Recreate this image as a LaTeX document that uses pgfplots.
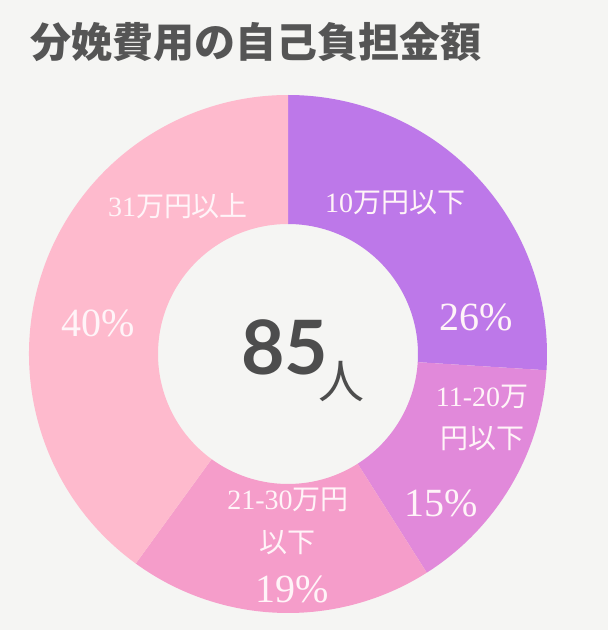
\documentclass[border=0pt]{standalone}
\usepackage{fontspec}
\usepackage{pgfplots}
\pgfplotsset{compat=1.18}
\setmainfont{Liberation Serif}
\newfontfamily\cjk{Noto Sans CJK JP}
\newfontfamily\lato{Lato}
\definecolor{bg}{HTML}{F5F5F3}
\definecolor{c1}{HTML}{BD78E9}
\definecolor{c2}{HTML}{E189DA}
\definecolor{c3}{HTML}{F59DCA}
\definecolor{c4}{HTML}{FEBACD}
\definecolor{lab}{HTML}{FFF4F8}
\definecolor{ttl}{HTML}{555555}
\definecolor{ctr}{HTML}{4D4D4D}
% sector from cumulative percent #1 to #2 (clockwise from top)
\newcommand\sector[3]{\fill[#3] ([shift={({90-3.6*#1}:259pt)}]axis cs:288,276) arc[start angle={90-3.6*#1}, end angle={90-3.6*#2}, radius=259pt] -- ([shift={({90-3.6*#2}:130pt)}]axis cs:288,276) arc[start angle={90-3.6*#2}, end angle={90-3.6*#1}, radius=130pt] -- cycle;}
\newcommand\lf[1]{\fontsize{#1}{#1}\selectfont}
\begin{document}
\begin{tikzpicture}
\begin{axis}[scale only axis, width=608pt, height=630pt,
  xmin=0, xmax=608, ymin=0, ymax=630, hide axis, clip=false,
  anchor=south west, at={(0,0)}]
\fill[bg] (axis cs:0,0) rectangle (axis cs:608,630);
% percentages: 26, 15, 19, 40
\sector{0}{26}{c1}
\sector{26}{41}{c2}
\sector{41}{60}{c3}
\sector{60}{100}{c4}
% title
\node[text=ttl, anchor=center] at (axis cs:256,588) {\cjk\bfseries\lf{41}分娩費用の自己負担金額};
% center
\node[text=ctr, anchor=base west, inner sep=0pt] at (axis cs:241,255) {\lato\bfseries\lf{75}85\kern-10pt\raisebox{-24pt}{\cjk\mdseries\lf{46}人}};
% labels
\node[text=lab] at (axis cs:395,427) {\lf{28}10{\cjk 万円以下}};
\node[text=lab] at (axis cs:476,313) {\lf{40}26\%};
\node[text=lab] at (axis cs:482,233) {\lf{28}11-20{\cjk 万}};
\node[text=lab] at (axis cs:482,191) {\cjk\lf{28}円以下};
\node[text=lab] at (axis cs:441,127) {\lf{40}15\%};
\node[text=lab] at (axis cs:288,130) {\lf{28}21-30{\cjk 万円}};
\node[text=lab] at (axis cs:287,87) {\cjk\lf{28}以下};
\node[text=lab] at (axis cs:292,41) {\lf{40}19\%};
\node[text=lab] at (axis cs:178,424) {\lf{28}31{\cjk 万円以上}};
\node[text=lab] at (axis cs:98,307) {\lf{40}40\%};
\end{axis}
\pgfresetboundingbox
\path[use as bounding box] (0,0) rectangle (608pt,630pt);
\end{tikzpicture}
\end{document}
